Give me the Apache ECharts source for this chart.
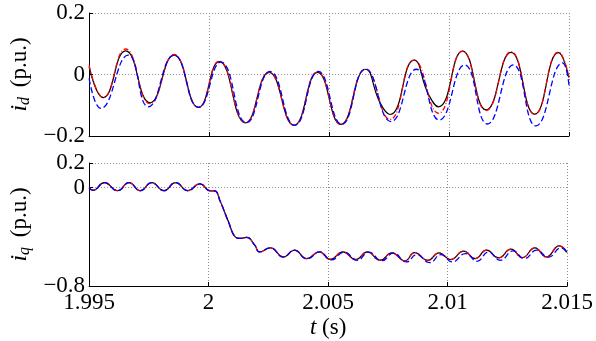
<!DOCTYPE html>
<html><head><meta charset="utf-8">
<script src="https://cdn.jsdelivr.net/npm/echarts@6/dist/echarts.min.js"></script>
<style>html,body{margin:0;padding:0;background:#fff}#c{width:596px;height:341px}</style>
</head><body><div id="c"></div>
<script>
// ---- data: i_d (top panel) ----
const idBlackT = [1.99500,1.99559,1.99652,1.99754,1.99854,1.99956,2.00042,2.00152,2.00250,2.00354,2.00452,2.00549,2.00652,2.00713,2.00754,2.00854,2.00914,2.00956,2.01056,2.01155,2.01258,2.01357,2.01456,2.01500];
const idBlack  = [0.025,-0.075,0.077,-0.092,0.063,-0.107,0.042,-0.157,0.007,-0.165,0.007,-0.162,0.017,-0.093,-0.130,0.047,-0.064,-0.105,0.076,-0.115,0.072,-0.129,0.071,-0.010];
const idRedT   = [1.99500,1.99559,1.99652,1.99754,1.99854,1.99956,2.00042,2.00152,2.00250,2.00354,2.00452,2.00549,2.00652,2.00754,2.00854,2.00956,2.01056,2.01155,2.01258,2.01357,2.01456,2.01500];
const idRed    = [0.030,-0.075,0.083,-0.095,0.065,-0.107,0.044,-0.157,0.007,-0.165,0.008,-0.162,0.017,-0.146,0.047,-0.126,0.076,-0.117,0.074,-0.130,0.073,-0.007];
const idBlueT  = [1.99500,1.99549,1.99663,1.99747,1.99854,1.99956,2.00049,2.00156,2.00254,2.00357,2.00455,2.00553,2.00652,2.00758,2.00864,2.00959,2.01065,2.01160,2.01268,2.01362,2.01473,2.01500];
const idBlue   = [-0.013,-0.110,0.063,-0.105,0.063,-0.107,0.040,-0.157,0.010,-0.165,0.010,-0.162,0.018,-0.153,0.017,-0.148,0.031,-0.161,0.031,-0.167,0.038,-0.035];

// ---- data: i_q (bottom panel) ----
const iqBlackT = [1.99500,1.99516,1.99564,1.99619,1.99667,1.99714,1.99762,1.99813,1.99862,1.99913,1.99963,2.00008,2.00025,2.00049,2.00083,2.00111,2.00131,2.00159,2.00193,2.00213,2.00258,2.00313,2.00359,2.00411,2.00463,2.00509,2.00562,2.00616,2.00664,2.00718,2.00766,2.00821,2.00862,2.00917,2.00964,2.01012,2.01067,2.01115,2.01163,2.01213,2.01265,2.01313,2.01365,2.01413,2.01467,2.01500];
const iqBlack  = [0.000,-0.022,0.040,-0.025,0.040,-0.025,0.040,-0.025,0.040,-0.025,0.030,-0.027,-0.027,-0.114,-0.278,-0.400,-0.413,-0.405,-0.468,-0.523,-0.490,-0.563,-0.509,-0.577,-0.523,-0.583,-0.523,-0.585,-0.523,-0.590,-0.531,-0.596,-0.528,-0.591,-0.531,-0.585,-0.517,-0.577,-0.509,-0.572,-0.501,-0.569,-0.490,-0.564,-0.474,-0.528];
const iqRed    = [0.000,-0.022,0.040,-0.025,0.040,-0.025,0.040,-0.025,0.040,-0.025,0.030,-0.027,-0.027,-0.114,-0.278,-0.400,-0.413,-0.405,-0.468,-0.523,-0.490,-0.563,-0.509,-0.577,-0.523,-0.583,-0.523,-0.585,-0.523,-0.590,-0.531,-0.596,-0.528,-0.591,-0.531,-0.585,-0.517,-0.577,-0.509,-0.572,-0.501,-0.569,-0.490,-0.564,-0.474,-0.528];
const iqBlueT  = [1.99500,1.99516,1.99564,1.99619,1.99667,1.99714,1.99762,1.99813,1.99862,1.99913,1.99963,2.00008,2.00025,2.00049,2.00083,2.00111,2.00131,2.00159,2.00193,2.00213,2.00258,2.00313,2.00359,2.00411,2.00465,2.00513,2.00567,2.00622,2.00670,2.00725,2.00773,2.00828,2.00870,2.00925,2.00972,2.01020,2.01075,2.01123,2.01171,2.01221,2.01273,2.01321,2.01373,2.01421,2.01475,2.01500];
const iqBlue   = [0.000,-0.022,0.040,-0.025,0.040,-0.025,0.040,-0.025,0.040,-0.025,0.030,-0.027,-0.027,-0.114,-0.278,-0.400,-0.413,-0.405,-0.468,-0.523,-0.490,-0.565,-0.509,-0.580,-0.523,-0.588,-0.525,-0.591,-0.525,-0.594,-0.533,-0.604,-0.545,-0.610,-0.545,-0.604,-0.536,-0.599,-0.523,-0.591,-0.515,-0.577,-0.509,-0.566,-0.490,-0.535];

// ---- axis ticks ----
const xTicks = [1.995, 2.0, 2.005, 2.01, 2.015];
const idTicks = [-0.2, 0, 0.2];
const iqTicks = [-0.8, 0, 0.2];

const pairs = (t, v) => t.map((x, i) => [x, v[i]]);
const FONT = "'Liberation Serif','Times New Roman',serif";
const fmtNum = v => { const s = String(parseFloat((+v).toFixed(4))); return s.replace('-', '\u2212'); };

const chart = echarts.init(document.getElementById('c'), null, {renderer: 'canvas'});

function xAxis(gi, showLabels) {
  return {
    type: 'value', gridIndex: gi, min: xTicks[0], max: xTicks[xTicks.length - 1], interval: 0.005,
    axisLine: {show: true, onZero: false, lineStyle: {color: '#000', width: 1}},
    axisTick: {show: true, inside: true, length: 4, lineStyle: {color: '#000'}},
    axisLabel: {show: showLabels, margin: 5, fontFamily: FONT, fontSize: 23, color: '#000', formatter: fmtNum},
    splitLine: {show: true, lineStyle: {color: '#8a8a8a', type: [1, 2], width: 1}},
    name: showLabels ? '{it|t} (s)' : '', nameLocation: 'middle', nameGap: 30,
    nameTextStyle: {fontFamily: FONT, fontSize: 23, color: '#000', rich: {it: {fontFamily: FONT, fontSize: 23, fontStyle: 'italic', color: '#000'}}}
  };
}
function yAxis(gi, ticks, sub) {
  return {
    type: 'value', gridIndex: gi, min: ticks[0], max: ticks[ticks.length - 1], interval: 0.2,
    axisLine: {show: true, onZero: false, lineStyle: {color: '#000', width: 1}},
    axisTick: {show: true, inside: true, length: 4, lineStyle: {color: '#000'}, customValues: ticks},
    axisLabel: {show: true, margin: 4, fontFamily: FONT, fontSize: 23, color: '#000', formatter: fmtNum, customValues: ticks},
    splitLine: {show: true, lineStyle: {color: '#8a8a8a', type: [1, 2], width: 1}},
    name: '{it|i}{sub|' + sub + '} (p.u.)', nameLocation: 'middle', nameRotate: 90, nameGap: 47,
    nameTextStyle: {fontFamily: FONT, fontSize: 23, color: '#000',
      rich: {it: {fontFamily: FONT, fontSize: 24, fontStyle: 'italic', color: '#000'},
             sub: {fontFamily: FONT, fontSize: 16, fontStyle: 'italic', color: '#000', padding: [9, 4, 0, 0]}}}
  };
}
function line(gi, data, color, dash, w, z) {
  return {type: 'line', xAxisIndex: gi, yAxisIndex: gi, data: data, showSymbol: false, smooth: 0.5,
    lineStyle: {color: color, width: w, type: dash}, z: z, silent: true};
}

chart.setOption({
  animation: false,
  backgroundColor: '#fff',
  grid: [
    {left: 81, right: 27, top: 13, height: 123},
    {left: 81, right: 27, top: 163, height: 123}
  ],
  xAxis: [xAxis(0, false), xAxis(1, true)],
  yAxis: [yAxis(0, idTicks, 'd'), yAxis(1, iqTicks, 'q')],
  series: [
    line(0, pairs(idBlackT, idBlack), '#000000', 'solid', 1.2, 2),
    line(0, pairs(idRedT, idRed), '#ff0000', [5, 2, 1, 2], 1.3, 3),
    line(0, pairs(idBlueT, idBlue), '#0000ff', [6, 3], 1.3, 4),
    line(1, pairs(iqBlackT, iqBlack), '#000000', 'solid', 1.2, 2),
    line(1, pairs(iqBlackT, iqRed), '#ff0000', [5, 2, 1, 2], 1.3, 3),
    line(1, pairs(iqBlueT, iqBlue), '#0000ff', [6, 3], 1.3, 4)
  ]
});
</script></body></html>
